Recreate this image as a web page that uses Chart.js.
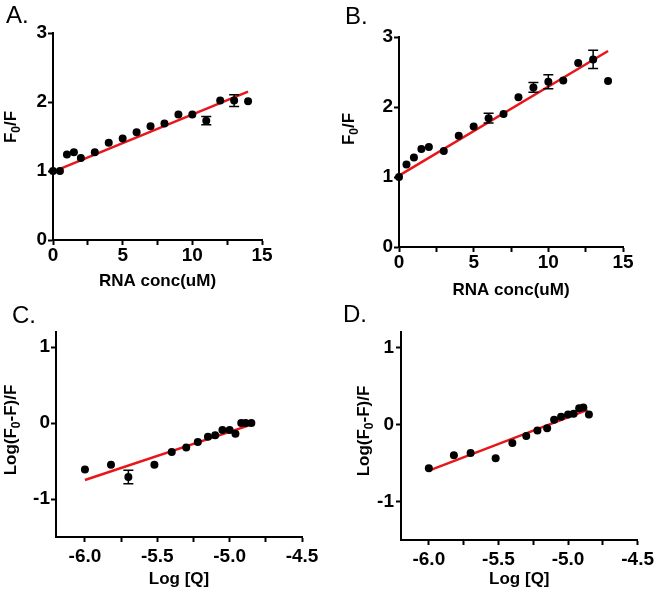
<!DOCTYPE html>
<html><head><meta charset="utf-8">
<script src="https://cdn.jsdelivr.net/npm/chart.js@4"></script>
<style>
html,body{margin:0;padding:0;background:#fff;}
#wrap{position:relative;width:657px;height:592px;overflow:hidden;background:#fff;}
canvas{position:absolute;}
.lbl{position:absolute;font-family:"Liberation Sans",Arial,sans-serif;font-size:24px;line-height:24px;color:#000;white-space:nowrap;}
</style></head><body>
<div id="wrap">
<canvas id="cA" width="328" height="300" style="left:0;top:0"></canvas>
<canvas id="cB" width="328" height="310" style="left:329px;top:0"></canvas>
<canvas id="cC" width="328" height="292" style="left:0;top:300px"></canvas>
<canvas id="cD" width="328" height="292" style="left:329px;top:300px"></canvas>
<div class="lbl" style="left:6px;top:3px">A.</div>
<div class="lbl" style="left:345px;top:4px">B.</div>
<div class="lbl" style="left:12px;top:303px">C.</div>
<div class="lbl" style="left:343px;top:302px">D.</div>
</div>
<script>
// ---- data ----
const concRNA = [0, 0.5, 1, 1.5, 2, 3, 4, 5, 6, 7, 8, 9, 10, 11, 12, 13, 14];
const ratioA  = [1.00, 1.00, 1.24, 1.27, 1.19, 1.27, 1.41, 1.47, 1.56, 1.65, 1.69, 1.82, 1.82, 1.73, 2.02, 2.02, 2.01];
const errA    = [0, 0, 0, 0, 0, 0, 0, 0, 0, 0, 0, 0, 0, 0.06, 0, 0.085, 0];
const fitAx   = [0.5, 14];
const fitAy   = [1.03, 2.15];

const ratioB  = [1.00, 1.18, 1.28, 1.40, 1.43, 1.37, 1.59, 1.72, 1.84, 1.90, 2.14, 2.28, 2.36, 2.38, 2.63, 2.68, 2.37];
const errB    = [0, 0, 0, 0, 0, 0, 0, 0, 0.07, 0, 0, 0.07, 0.10, 0, 0, 0.13, 0];
const fitBx   = [0, 14];
const fitBy   = [1.02, 2.80];

const logQ    = [-6.00, -5.82, -5.70, -5.52, -5.40, -5.30, -5.22, -5.15, -5.10, -5.05, -5.00, -4.96, -4.92, -4.89, -4.85];
const logC    = [-0.61, -0.55, -0.71, -0.55, -0.38, -0.32, -0.25, -0.18, -0.16, -0.09, -0.09, -0.14, 0.00, 0.00, 0.00];
const errC    = [0, 0, 0.088, 0, 0, 0, 0, 0, 0, 0, 0, 0, 0, 0, 0];
const fitCx   = [-6.00, -4.85];
const fitCy   = [-0.75, -0.02];

const logD    = [-0.57, -0.40, -0.37, -0.44, -0.24, -0.15, -0.08, -0.05, 0.06, 0.10, 0.13, 0.14, 0.21, 0.22, 0.13];
const errD    = [0, 0, 0, 0, 0, 0, 0, 0, 0, 0, 0, 0, 0, 0, 0];
const fitDx   = [-6.00, -4.86];
const fitDy   = [-0.60, 0.19];

const concTicks      = [0, 2.5, 5, 7.5, 10, 12.5, 15];
const concTickLabels = ['0', '', '5', '', '10', '', '15'];
const ratioTicks      = [0, 1, 2, 3];
const ratioTickLabels = ['0', '1', '2', '3'];
const logQTicks      = [-6.0, -5.75, -5.5, -5.25, -5.0, -4.75, -4.5];
const logQTickLabels = ['-6.0', '', '-5.5', '', '-5.0', '', '-4.5'];
const logTicks      = [-1, 0, 1];
const logTickLabels = ['-1', '0', '1'];

const xTitleConc = 'RNA conc(uM)';
const xTitleLog = 'Log [Q]';
// y titles: pieces, second flag marks subscript
const yTitleRatio = [['F', 0], ['0', 1], ['/F', 0]];
const yTitleLog   = [['Log(F', 0], ['0', 1], ['-F)/F', 0]];

// ---- drawing ----
const RED = '#e8161b';
const FONT = '"Liberation Sans", Arial, sans-serif';
Chart.defaults.font.family = FONT;
Chart.defaults.color = '#000';

const errorBars = {
  id: 'errorBars',
  afterDatasetsDraw(chart) {
    const ds = chart.data.datasets[1];
    const errs = ds.errs;
    if (!errs) return;
    const xs = chart.scales.x, ys = chart.scales.y, ctx = chart.ctx;
    ctx.save();
    ctx.strokeStyle = '#000';
    ctx.lineWidth = 1.5;
    ds.data.forEach((p, i) => {
      const e = errs[i];
      if (!e) return;
      const px = xs.getPixelForValue(p.x);
      const y1 = ys.getPixelForValue(p.y + e), y2 = ys.getPixelForValue(p.y - e);
      ctx.beginPath();
      ctx.moveTo(px, y1); ctx.lineTo(px, y2);
      ctx.moveTo(px - 5, y1); ctx.lineTo(px + 5, y1);
      ctx.moveTo(px - 5, y2); ctx.lineTo(px + 5, y2);
      ctx.stroke();
    });
    ctx.restore();
  }
};

// y-axis title with a true subscript, drawn as canvas text
const yTitle = {
  id: 'yTitle',
  afterDraw(chart, args, opts) {
    if (!opts || !opts.parts) return;
    const ctx = chart.ctx;
    const fMain = 'bold 17px ' + FONT, fSub = 'bold 12px ' + FONT;
    ctx.save();
    ctx.fillStyle = '#000';
    let w = 0;
    opts.parts.forEach(p => { ctx.font = p[1] ? fSub : fMain; w += ctx.measureText(p[0]).width; });
    ctx.translate(opts.x, opts.y);
    ctx.rotate(-Math.PI / 2);
    ctx.textAlign = 'left';
    ctx.textBaseline = 'alphabetic';
    let x = -w / 2;
    opts.parts.forEach(p => {
      ctx.font = p[1] ? fSub : fMain;
      ctx.fillText(p[0], x, p[1] ? 10 : 6);
      x += ctx.measureText(p[0]).width;
    });
    ctx.restore();
  }
};

function axis(min, max, ticks, labels, title, g, horizontal) {
  return {
    type: 'linear', min: min, max: max,
    afterBuildTicks: s => { s.ticks = ticks.map(v => ({value: v})); },
    afterFit: s => { if (horizontal) s.height = g.size; else s.width = g.size; },
    grid: {display: true, drawOnChartArea: false, drawTicks: true, tickLength: 5, tickWidth: 2, tickColor: '#000'},
    border: {display: true, color: '#000', width: 2},
    ticks: {
      color: '#000', autoSkip: false, maxRotation: 0, minRotation: 0,
      padding: g.tickPad,
      font: {size: 19, weight: 'bold', family: FONT},
      callback: (v, i) => labels[i]
    },
    title: {
      display: !!title, text: title || '', color: '#000',
      font: {size: 17, weight: 'bold', family: FONT},
      padding: {top: g.titlePad || 0, bottom: g.titlePad || 0}
    }
  };
}

function build(id, xs, ys, errs, fx, fy, xa, ya, layout, yt) {
  new Chart(document.getElementById(id), {
    type: 'scatter',
    data: {
      datasets: [
        {type: 'line', data: fx.map((x, i) => ({x: x, y: fy[i]})), borderColor: RED, borderWidth: 2.5,
         pointRadius: 0, showLine: true, fill: false, order: 2, clip: false},
        {data: xs.map((x, i) => ({x: x, y: ys[i]})), errs: errs, backgroundColor: '#000', borderColor: '#000',
         pointRadius: 4, pointHoverRadius: 4, borderWidth: 0, order: 1, clip: false}
      ]
    },
    options: {
      responsive: false, animation: false, events: [],
      layout: {padding: layout},
      plugins: {legend: {display: false}, tooltip: {enabled: false}, yTitle: yt},
      scales: {x: xa, y: ya}
    },
    plugins: [errorBars, yTitle]
  });
}

build('cA', concRNA, ratioA, errA, fitAx, fitAy,
  axis(0, 15, concTicks, concTickLabels, xTitleConc, {size: 60, tickPad: -1, titlePad: 8}, true),
  axis(0, 3, ratioTicks, ratioTickLabels, null, {size: 53, tickPad: 1}, false),
  {left: 0, right: 66, top: 33, bottom: 0},
  {parts: yTitleRatio, x: 10, y: 127});

build('cB', concRNA, ratioB, errB, fitBx, fitBy,
  axis(0, 15, concTicks, concTickLabels, xTitleConc, {size: 63, tickPad: -1, titlePad: 9}, true),
  axis(0, 3, ratioTicks, ratioTickLabels, null, {size: 70, tickPad: 1}, false),
  {left: 0, right: 34, top: 37, bottom: 0},
  {parts: yTitleRatio, x: 19, y: 129});

build('cC', logQ, logC, errC, fitCx, fitCy,
  axis(-6.2, -4.5, logQTicks, logQTickLabels, xTitleLog, {size: 55, tickPad: 3, titlePad: 2}, true),
  axis(-1.5, 1.2, logTicks, logTickLabels, null, {size: 56, tickPad: 1}, false),
  {left: 0, right: 26, top: 32, bottom: 0},
  {parts: yTitleLog, x: 10, y: 130});

build('cD', logQ, logD, errD, fitDx, fitDy,
  axis(-6.2, -4.5, logQTicks, logQTickLabels, xTitleLog, {size: 52, tickPad: 3, titlePad: 2}, true),
  axis(-1.5, 1.2, logTicks, logTickLabels, null, {size: 72, tickPad: 2}, false),
  {left: 0, right: 17, top: 32, bottom: 0},
  {parts: yTitleLog, x: 34, y: 131});
</script>
</body></html>
